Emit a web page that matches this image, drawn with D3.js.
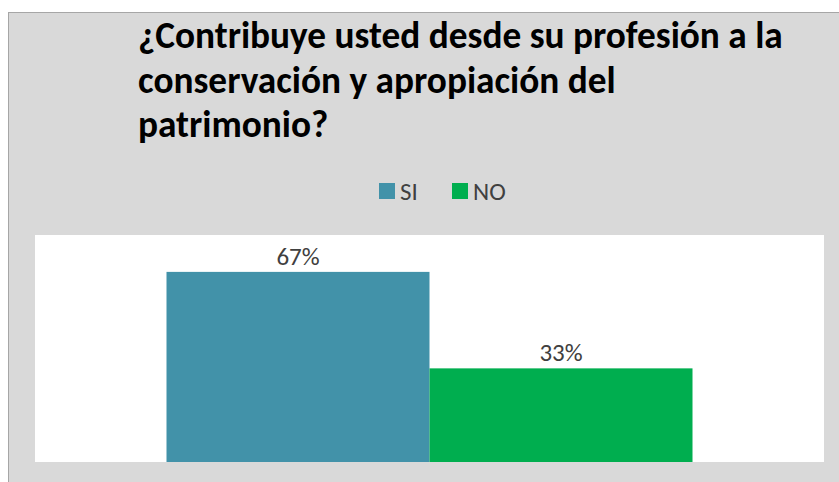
<!DOCTYPE html>
<html>
<head>
<meta charset="utf-8">
<script src="https://cdn.jsdelivr.net/npm/d3@7"></script>
<style>
  html, body { margin: 0; padding: 0; background: #fff; }
  svg { display: block; }
</style>
</head>
<body>
<div class="chart"></div>
<script>
// data
var series = ['SI', 'NO']
var values = [67, 33]
var labels = ['67%', '33%']
var colors = ['#4292a9', '#00ae4f']
var titleLines = ['¿Contribuye usted desde su profesión a la',
                  'conservación y apropiación del',
                  'patrimonio?']

var W = 839, H = 482
var fontStack = 'Carlito, Calibri, Lato, "Open Sans", sans-serif'

// plot area
var plot = {left: 35, right: 824, top: 235, bottom: 462}

var x = d3.scaleBand()
          .domain(series)
          .range([plot.left, plot.right])
          .paddingInner(0)
          .paddingOuter(0.5)

var y = d3.scaleLinear()
          .domain([0, 80])
          .range([plot.bottom, plot.top])

var svg = d3.select('.chart')
            .append('svg')
            .attr('width', W)
            .attr('height', H)

// chart area background
svg.append('rect')
   .attr('x', 8.5)
   .attr('y', 12.5)
   .attr('width', W)
   .attr('height', H)
   .style('fill', '#d9d9d9')
   .style('stroke', '#a6a6a6')
   .style('stroke-width', 1)

svg.append('rect')
   .attr('x', plot.left)
   .attr('y', plot.top)
   .attr('width', plot.right - plot.left)
   .attr('height', plot.bottom - plot.top)
   .style('fill', '#fff')

// title, fitted to the width it has in the picture
var title = svg.append('g').attr('class', 'title')
title.selectAll('text')
     .data(titleLines)
     .enter()
     .append('text')
     .attr('x', 138)
     .attr('y', function(d, i){ return 48 + i * 44.5 })
     .style('font-family', fontStack)
     .style('font-weight', 'bold')
     .style('font-size', '34px')
     .style('fill', '#000')
     .text(function(d){ return d })

var firstW = title.select('text').node().getComputedTextLength()
var titleSize = 34 * 645 / firstW
title.selectAll('text').style('font-size', titleSize + 'px')

// legend
var legend = svg.append('g').attr('class', 'legend')
var legendX = [379, 452]
var item = legend.selectAll('g')
                 .data(series)
                 .enter()
                 .append('g')
                 .attr('transform', function(d, i){ return 'translate(' + legendX[i] + ',183)' })

item.append('rect')
    .attr('width', 16)
    .attr('height', 16)
    .style('fill', function(d, i){ return colors[i] })

item.append('text')
    .attr('x', 21)
    .attr('y', 17)
    .style('font-family', fontStack)
    .style('font-size', '25px')
    .style('fill', '#404040')
    .text(function(d){ return d })

// bars
svg.selectAll('.bar')
   .data(values)
   .enter()
   .append('rect')
   .attr('class', 'bar')
   .attr('x', function(d, i){ return x(series[i]) })
   .attr('width', x.bandwidth())
   .attr('y', function(d){ return y(d) })
   .attr('height', function(d){ return y(0) - y(d) })
   .style('fill', function(d, i){ return colors[i] })

svg.selectAll('.bar-label')
   .data(values)
   .enter()
   .append('text')
   .attr('class', 'bar-label')
   .attr('x', function(d, i){ return x(series[i]) + x.bandwidth() / 2 })
   .attr('y', function(d){ return y(d) - 7 })
   .attr('text-anchor', 'middle')
   .style('font-family', fontStack)
   .style('font-size', '25px')
   .style('fill', '#404040')
   .text(function(d, i){ return labels[i] })
</script>
</body>
</html>
